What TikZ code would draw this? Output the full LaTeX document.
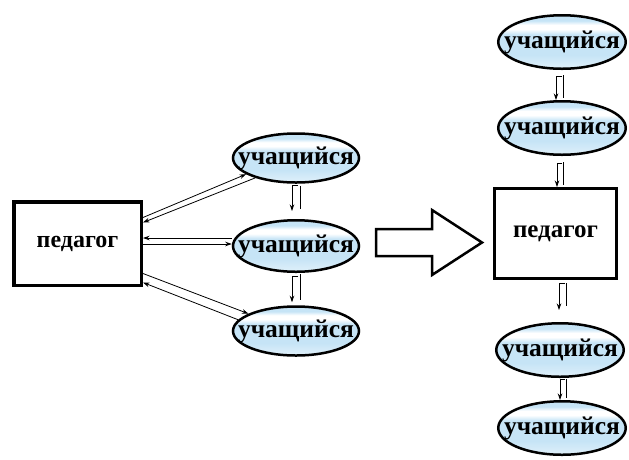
\documentclass[tikz,border=0pt]{standalone}
\usepackage{fontspec}
\setmainfont{Liberation Serif}
\usetikzlibrary{shapes.geometric,arrows.meta}
\definecolor{lb}{RGB}{198,228,246}
\pgfdeclareverticalshading{ellsh}{100bp}{color(0bp)=(lb!55!white); color(25bp)=(lb!55!white); color(38bp)=(lb); color(57bp)=(lb); color(62bp)=(white); color(66bp)=(white); color(70bp)=(lb); color(75bp)=(lb); color(100bp)=(lb)}
\begin{document}
\begin{tikzpicture}[x=1pt,y=-1pt,
  txt/.style={font=\fontsize{24}{28}\selectfont\bfseries},
  stxt/.style={font=\fontsize{25.5}{30}\selectfont\bfseries},
  studl/.style={ellipse, draw, line width=2.5pt, shading=ellsh, minimum width=126pt, minimum height=49pt, inner sep=0pt, stxt},
  studr/.style={ellipse, draw, line width=2.5pt, shading=ellsh, minimum width=127.5pt, minimum height=53.5pt, inner sep=0pt, stxt},
  ped/.style={rectangle, draw, fill=white, inner sep=0pt, txt},
  con/.style={line width=0.8pt, -{Stealth[length=6.5pt,width=4.5pt]}},
  ln/.style={line width=0.8pt},
  bigarrow/.style={draw, line width=2.5pt, line join=miter, fill=white}]
\useasboundingbox (0,0) rectangle (629,459);
% left diagram
\node[ped, line width=3.5pt, minimum width=127.5pt, minimum height=83.5pt] (pl) at (77.5,243.5) {педагог};
\node[studl] (l1) at (296,158) {\makebox[0pt]{учащийся}};
\node[studl, minimum height=51.5pt] (l2) at (296,246) {\makebox[0pt]{учащийся}};
\node[studl] (l3) at (296,331) {\makebox[0pt]{учащийся}};
% diagonal and horizontal connectors
\draw[con] ([yshift=26pt]pl.east) -- (l1.198);
\draw[con] (l1.206) -- ([yshift=21pt]pl.east);
\draw[con] ([yshift=5.5pt]pl.east -| l2.west) -- ([yshift=5.5pt]pl.east);
\draw[con] ([yshift=-0.5pt]pl.east) -- ([yshift=-0.5pt]pl.east -| l2.west);
\draw[con] ([yshift=-30pt]pl.east) -- (l3.160);
\draw[con] (l3.169) -- ([yshift=-39pt]pl.east);
% vertical pairs left
\draw[con] ([xshift=2pt,yshift=-2pt]l1.south) -- ([xshift=-4pt,yshift=-2pt]l1.south) -- ([xshift=-4pt,yshift=8pt]l1.south |- l2.north);
\draw[ln] ([xshift=4pt,yshift=-2pt]l1.south) -- ([xshift=4pt,yshift=10pt]l1.south |- l2.north);
\draw[con] ([xshift=2pt,yshift=-3pt]l2.south) -- ([xshift=-4pt,yshift=-3pt]l2.south) -- ([xshift=-4pt,yshift=3pt]l2.south |- l3.north);
\draw[ln] ([xshift=4pt,yshift=-1pt]l2.south) -- ([xshift=4pt,yshift=5pt]l2.south |- l3.north);
% big arrow
\draw[bigarrow] (376,229) -- (432,229) -- (432,210) -- (482,242.5) -- (432,275) -- (432,256) -- (376,256) -- cycle;
% right diagram
\node[studr] (r1) at (562,42) {\makebox[0pt]{учащийся}};
\node[studr] (r2) at (562,128) {\makebox[0pt]{учащийся}};
\node[ped, line width=3pt, minimum width=122pt, minimum height=90pt, font=\fontsize{25}{29}\selectfont\bfseries] (pr) at (555.5,233.5) {педагог};
\node[studr] (r3) at (560,350) {\makebox[0pt]{учащийся}};
\node[studr] (r4) at (562,428) {\makebox[0pt]{учащийся}};
% vertical pairs right
\draw[con] ([xshift=0pt,yshift=-6pt]r1.south) -- ([xshift=-6pt,yshift=-6pt]r1.south) -- ([xshift=-6pt]r1.south |- r2.north);
\draw[ln] ([xshift=1pt,yshift=-5pt]r1.south) -- ([xshift=1pt,yshift=2pt]r1.south |- r2.north);
\draw[con] ([xshift=0pt,yshift=-7pt]r2.south) -- ([xshift=-5pt,yshift=-7pt]r2.south) -- ([xshift=-5pt]r2.south |- pr.north);
\draw[ln] ([xshift=1pt,yshift=-6pt]r2.south) -- ([xshift=1pt,yshift=2pt]r2.south |- pr.north);
\draw[con] ([xshift=5pt,yshift=-3pt]r3.north |- pr.south) -- ([xshift=-1pt,yshift=-3pt]r3.north |- pr.south) -- ([xshift=-1pt,yshift=12pt]r3.north);
\draw[ln] ([xshift=6pt,yshift=-3pt]r3.north |- pr.south) -- ([xshift=6pt,yshift=16pt]r3.north);
\draw[con] ([xshift=5pt,yshift=-1pt]r3.south) -- ([xshift=0pt,yshift=-1pt]r3.south) -- ([xshift=0pt]r3.south |- r4.north);
\draw[ln] ([xshift=6pt,yshift=-1pt]r3.south) -- ([xshift=6pt,yshift=2pt]r3.south |- r4.north);
\end{tikzpicture}
\end{document}
